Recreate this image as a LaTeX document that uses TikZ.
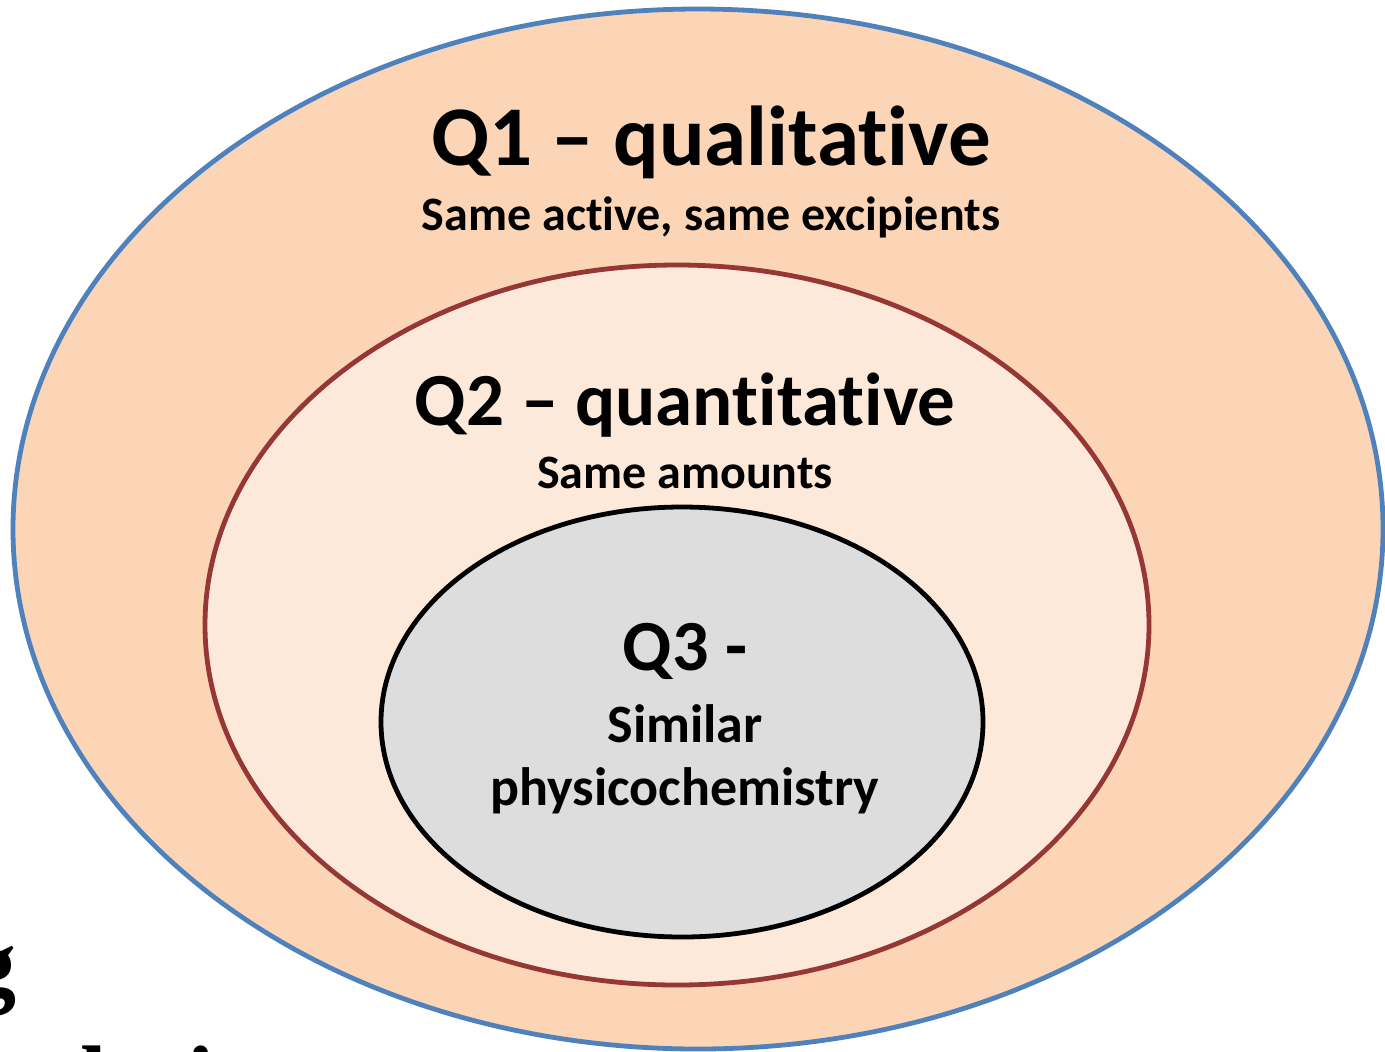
\documentclass[tikz,border=0pt]{standalone}
\usepackage{fontspec}
\setmainfont{Carlito}[Ligatures={NoCommon,NoContextual,NoRare}]
\newfontfamily\fragfont{Liberation Serif}
\definecolor{outerfill}{HTML}{FBD5B5}
\definecolor{outerline}{HTML}{4F81BD}
\definecolor{midfill}{HTML}{FDE9D9}
\definecolor{midline}{HTML}{953735}
\definecolor{innerfill}{HTML}{DDDDDD}
\tikzset{
  ring/.style={line width=2.4pt},
  big/.style={font=\bfseries\fontsize{42.5}{50}\selectfont, anchor=base, inner sep=0pt},
  bigtwo/.style={font=\bfseries\fontsize{37.5}{44}\selectfont, anchor=base, inner sep=0pt},
  small/.style={font=\bfseries\fontsize{24}{28}\selectfont, anchor=base, inner sep=0pt},
  qthree/.style={font=\bfseries\fontsize{36}{42}\selectfont, anchor=base, inner sep=0pt},
  mid/.style={font=\bfseries\fontsize{27}{32}\selectfont, anchor=base, inner sep=0pt},
  frag/.style={font=\fragfont\bfseries\fontsize{48}{56}\selectfont, anchor=base west, inner sep=0pt},
}
\begin{document}
\begin{tikzpicture}[x=0.5pt,y=-0.5pt]
\useasboundingbox (0,0) rectangle (1385,1051);
\clip (0,0) rectangle (1385,1051);
\fill[white] (0,0) rectangle (1385,1051);
\node[frag] (fragA) at (-32,995) {g};
\node[frag] (fragB) at (80,1112) {lati};
\draw[ring, draw=outerline, fill=outerfill] (698,529) ellipse [x radius=685, y radius=520];
\draw[ring, draw=midline, fill=midfill] (677,625) ellipse [x radius=472, y radius=360];
\draw[ring, draw=black, fill=innerfill] (682,722) ellipse [x radius=301, y radius=215];
\node[big] (q1) at (711,165) {Q1 – qualitative};
\node[small] (q1s) at (711,230) {Same active, same excipients};
\node[bigtwo] (q2) at (685,425) {Q2 – quantitative};
\node[small] (q2s) at (685,488) {Same amounts};
\node[qthree] (q3) at (685,670) {Q3 -};
\node[mid] (q3a) at (685,742) {Similar};
\node[mid] (q3b) at (685,805) {physicochemistry};
\end{tikzpicture}
\end{document}
